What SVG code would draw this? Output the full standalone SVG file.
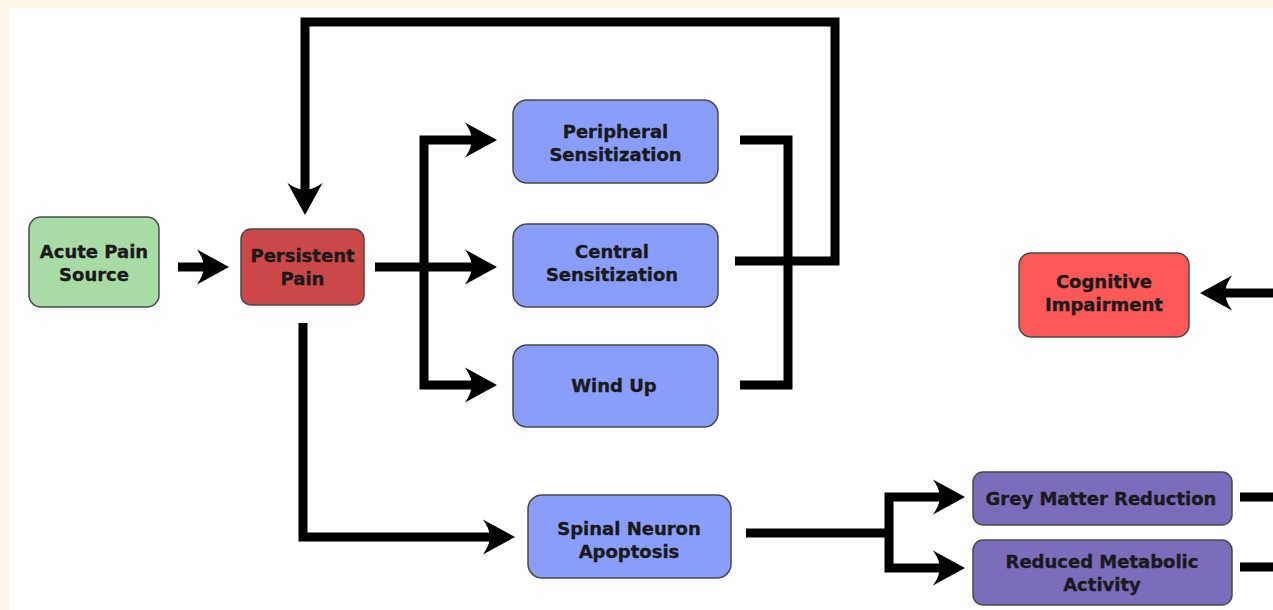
<svg xmlns="http://www.w3.org/2000/svg" width="1273" height="610" viewBox="0 0 1273 610">
  <style>
    .node rect { stroke: #4a4a4a; stroke-width: 1.5; }
    .node text { font-family: "DejaVu Sans", Verdana, sans-serif; font-weight: bold; font-size: 18px; fill: #1a1a1a; stroke: #1a1a1a; stroke-width: 0.35; text-anchor: middle; }
    .green { fill: #a8dba6; }
    .dkred { fill: #cc4848; }
    .blue { fill: #8a9ef9; }
    .red { fill: #fc5858; }
    .purple { fill: #7b6cbc; }
    #connectors path { fill: none; stroke: #000; stroke-width: 9; stroke-linejoin: miter; }
    #connectors path.arrow { marker-end: url(#head); }
  </style>
  <defs>
    <marker id="head" markerUnits="userSpaceOnUse" viewBox="-14 -19 36 38" markerWidth="36" markerHeight="38" refX="0" refY="0" orient="auto" overflow="visible">
      <path d="M20,0 L-12,-17.5 Q-4,-6 -6,0 Q-4,6 -12,17.5 Z" fill="#000"/>
    </marker>
  </defs>

  <!-- page -->
  <rect x="0" y="0" width="1273" height="610" fill="#fdf4e8"/>
  <rect x="9" y="8" width="1264" height="602" fill="#ffffff"/>

  <g id="connectors">
    <path class="arrow" d="M178,267 H209"/>
    <path class="arrow" d="M735,261 H835 V22 H305 V195"/>
    <path d="M740,140 H788 V385 H740"/>
    <path class="arrow" d="M375,267 H477"/>
    <path class="arrow" d="M424,267 V140 H477"/>
    <path class="arrow" d="M424,267 V385 H477"/>
    <path class="arrow" d="M303,323 V537 H495"/>
    <path d="M746,533 H889"/>
    <path class="arrow" d="M889,533 V497 H945"/>
    <path class="arrow" d="M889,533 V568 H945"/>
    <path d="M1240,497 H1273"/>
    <path d="M1240,567 H1273"/>
    <path class="arrow" d="M1273,293 H1220"/>
  </g>

  <g id="acute-pain" class="node">
    <rect class="green" x="29" y="217" width="130" height="90" rx="12"/>
    <text x="94" y="258">Acute Pain</text>
    <text x="94" y="281">Source</text>
  </g>

  <g id="persistent-pain" class="node">
    <rect class="dkred" x="241" y="229" width="123" height="76" rx="10"/>
    <text x="302.5" y="262">Persistent</text>
    <text x="302.5" y="285">Pain</text>
  </g>

  <g id="peripheral-sensitization" class="node">
    <rect class="blue" x="513" y="100" width="205" height="83" rx="14"/>
    <text x="615.5" y="138">Peripheral</text>
    <text x="615.5" y="161">Sensitization</text>
  </g>

  <g id="central-sensitization" class="node">
    <rect class="blue" x="513" y="224" width="205" height="83" rx="14"/>
    <text x="612" y="258">Central</text>
    <text x="612" y="281">Sensitization</text>
  </g>

  <g id="wind-up" class="node">
    <rect class="blue" x="513" y="345" width="205" height="82" rx="14"/>
    <text x="614" y="392">Wind Up</text>
  </g>

  <g id="spinal-neuron-apoptosis" class="node">
    <rect class="blue" x="528" y="495" width="203" height="83" rx="14"/>
    <text x="629" y="535">Spinal Neuron</text>
    <text x="629" y="558">Apoptosis</text>
  </g>

  <g id="cognitive-impairment" class="node">
    <rect class="red" x="1019" y="253" width="170" height="84" rx="12"/>
    <text x="1104" y="288">Cognitive</text>
    <text x="1104" y="311">Impairment</text>
  </g>

  <g id="grey-matter-reduction" class="node">
    <rect class="purple" x="973" y="472" width="259" height="53" rx="10"/>
    <text x="1101" y="505">Grey Matter Reduction</text>
  </g>

  <g id="reduced-metabolic-activity" class="node">
    <rect class="purple" x="973" y="540" width="259" height="65" rx="10"/>
    <text x="1102" y="568">Reduced Metabolic</text>
    <text x="1102" y="591">Activity</text>
  </g>
</svg>
